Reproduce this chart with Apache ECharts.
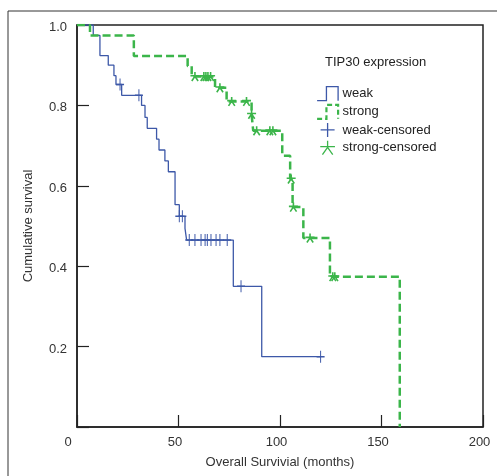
<!DOCTYPE html>
<html>
<head>
<meta charset="utf-8">
<script src="https://cdn.jsdelivr.net/npm/echarts@6/dist/echarts.min.js"></script>
<style>
  html, body { margin: 0; padding: 0; background: #fff; }
  #chart { width: 497px; height: 476px; }
</style>
</head>
<body>
<div id="chart"></div>
<script>
// Kaplan-Meier steps (months, survival)
var weakTimes = [0, 8, 11.3, 15.4, 18.2, 19.2, 22, 31.8, 33.5, 34.6, 39.2, 40.4, 43.3, 45, 48.3, 50.4, 53.2, 54, 77, 91, 120];
var weakSurv  = [1.0, 0.974, 0.924, 0.90, 0.874, 0.852, 0.825, 0.80, 0.77, 0.743, 0.716, 0.689, 0.662, 0.635, 0.553, 0.524, 0.494, 0.465, 0.35, 0.175, 0.175];

var strongTimes = [0, 6.4, 28, 54.5, 56.5, 68, 73.7, 86, 86.8, 101.1, 105, 106.2, 111.5, 124.6, 159];
var strongSurv  = [1.0, 0.974, 0.923, 0.898, 0.872, 0.844, 0.81, 0.778, 0.737, 0.675, 0.617, 0.547, 0.47, 0.374, 0.0];

// censored cases
var weakCensTimes = [21.2, 30.5, 50.4, 51.9, 55.3, 58.1, 61.1, 63.1, 64.2, 66, 68.5, 70.4, 74, 80.8, 120];
var weakCensSurv  = [0.852, 0.825, 0.524, 0.524, 0.465, 0.465, 0.465, 0.465, 0.465, 0.465, 0.465, 0.465, 0.465, 0.35, 0.175];

var strongCensTimes = [58.1, 62.5, 63.5, 64.5, 65.8, 70.4, 76.2, 83.5, 86, 88.5, 95, 96.5, 105.5, 106.6, 114.8, 126, 127];
var strongCensSurv  = [0.872, 0.872, 0.872, 0.872, 0.872, 0.844, 0.81, 0.81, 0.778, 0.737, 0.737, 0.737, 0.617, 0.547, 0.47, 0.374, 0.374];

var xTicks = [0, 50, 100, 150, 200];
var groupNames = ['weak', 'strong', 'weak-censored', 'strong-censored'];

var blue = '#3d58a8';
var green = '#3bb54a';
var font = 'Arial, "Liberation Sans", sans-serif';

function pairs(xs, ys) {
  return xs.map(function (x, i) { return [x, ys[i]]; });
}

var plusPath = 'path://M10,0 L10,20 M0,10 L20,10';
var starPath = 'path://M10,0 L10,9 M0,8 L20,8 M10,9 L3,19 M10,9 L17,19';
var stepPath = 'path://M0,14 L8,14 L8,2 L18,2 L18,14';

var myChart = echarts.init(document.getElementById('chart'));

var option = {
  animation: false,
  title: {
    text: 'TIP30 expression',
    left: 325,
    top: 56,
    padding: 0,
    textStyle: { fontSize: 13, fontWeight: 'normal', color: '#222', fontFamily: font }
  },
  legend: {
    orient: 'vertical',
    left: 316,
    top: 86,
    padding: 0,
    itemWidth: 22,
    itemHeight: 14,
    itemGap: 2.4,
    textStyle: { fontSize: 13, color: '#222', fontFamily: font, padding: [0, 0, 0, -1] },
    data: [
      { name: groupNames[0], icon: stepPath, itemStyle: { color: 'transparent', borderColor: blue, borderWidth: 1.3 } },
      { name: groupNames[1], icon: stepPath, itemStyle: { color: 'transparent', borderColor: green, borderWidth: 2.2, borderType: [5, 3] } },
      { name: groupNames[2], icon: plusPath, itemStyle: { color: 'transparent', borderColor: blue, borderWidth: 1.3 } },
      { name: groupNames[3], icon: starPath, itemStyle: { color: 'transparent', borderColor: green, borderWidth: 1.3 } }
    ]
  },
  graphic: [{
    type: 'rect',
    shape: { x: 8, y: 11, width: 600, height: 600 },
    style: { fill: 'none', stroke: '#333', lineWidth: 1 },
    silent: true
  }],
  grid: {
    left: 77, top: 25, right: 14, bottom: 49,
    show: true, borderColor: '#222', borderWidth: 1.5
  },
  xAxis: {
    type: 'value',
    min: 0, max: 200, interval: 50,
    name: 'Overall Survivial (months)',
    nameLocation: 'middle',
    nameGap: 29,
    nameTextStyle: { fontSize: 13, color: '#333', fontFamily: font },
    axisLine: { lineStyle: { color: '#222', width: 1.5 } },
    axisTick: { inside: true, length: 12, lineStyle: { color: '#222', width: 1.2 } },
    axisLabel: {
      margin: 9,
      fontSize: 13, color: '#333', fontFamily: font,
      formatter: function (v) {
        if (xTicks.indexOf(v) < 0) return '';
        return v === 0 ? '{z|0}' : '{n|' + v + '}';
      },
      rich: {
        z: { fontSize: 13, color: '#333', fontFamily: font, padding: [0, 18, 0, 0] },
        n: { fontSize: 13, color: '#333', fontFamily: font, padding: [0, 7, 0, 0] }
      }
    },
    splitLine: { show: false }
  },
  yAxis: {
    type: 'value',
    min: 0, max: 1, interval: 0.2,
    name: 'Cumulative survival',
    nameLocation: 'middle',
    nameGap: 42,
    nameTextStyle: { fontSize: 13, color: '#333', fontFamily: font },
    axisLine: { lineStyle: { color: '#222', width: 1.5 } },
    axisTick: { inside: true, length: 12, lineStyle: { color: '#222', width: 1.2 } },
    axisLabel: {
      margin: 10,
      fontSize: 13, color: '#333', fontFamily: font,
      formatter: function (v) { return v === 0 ? '' : '{y|' + v.toFixed(1) + '}'; },
      rich: {
        y: { fontSize: 13, color: '#333', fontFamily: font, padding: [5, 0, 0, 0] }
      }
    },
    splitLine: { show: false }
  },
  series: [
    {
      name: groupNames[0],
      type: 'line',
      step: 'end',
      symbol: 'none',
      silent: true,
      lineStyle: { color: blue, width: 1.3 },
      itemStyle: { color: blue },
      data: pairs(weakTimes, weakSurv)
    },
    {
      name: groupNames[1],
      type: 'line',
      step: 'end',
      symbol: 'none',
      silent: true,
      lineStyle: { color: green, width: 2.5, type: [8, 4] },
      itemStyle: { color: green },
      data: pairs(strongTimes, strongSurv)
    },
    {
      name: groupNames[2],
      type: 'scatter',
      symbol: plusPath,
      symbolSize: [8, 12],
      silent: true,
      itemStyle: { color: 'transparent', borderColor: blue, borderWidth: 1.2, opacity: 1 },
      data: pairs(weakCensTimes, weakCensSurv)
    },
    {
      name: groupNames[3],
      type: 'scatter',
      symbol: starPath,
      symbolSize: 9,
      silent: true,
      itemStyle: { color: 'transparent', borderColor: green, borderWidth: 1.6, opacity: 1 },
      data: pairs(strongCensTimes, strongCensSurv)
    }
  ]
};

myChart.setOption(option);
window.addEventListener('resize', function () {
  myChart.resize();
});
</script>
</body>
</html>
